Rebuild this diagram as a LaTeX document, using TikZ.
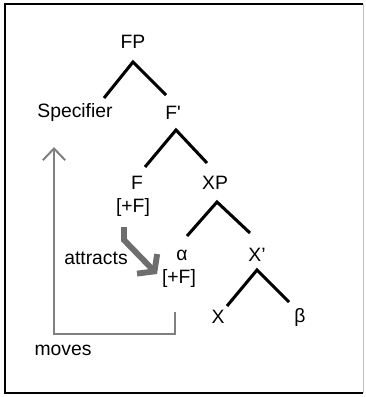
\documentclass[tikz,border=0pt]{standalone}
\usepackage{fontspec}
\setmainfont{Liberation Sans}
\usetikzlibrary{calc, arrows.meta}

\definecolor{arrowgray}{HTML}{6E6E6E}
\definecolor{bracketgray}{HTML}{808080}

\begin{document}
\begin{tikzpicture}[x=0.03cm, y=-0.03cm,
        branch/.style={line width=2.6pt, line join=miter},
        attract/.style={arrowgray, line width=5pt, -{Straight Barb[length=9pt, width=24pt]}},
        moveline/.style={bracketgray, line width=1.7pt, -{Straight Barb[length=10pt, width=19pt]}}]
    \useasboundingbox (0,0) rectangle (365,397);
    \draw[line width=1.8pt] (363,4) -- (5,4) -- (5,393) -- (363,393);
    \draw[line width=0.6pt, black!25] (363,4) -- (363,393);

    \begin{scope}[every node/.style={draw=none, inner sep=0pt, font=\fontsize{16.5}{18}\selectfont}]
        \node (fp) at (133, 42) {FP};
        \node (spec) at (75, 113) {Specifier};
        \node (fbar) at (173, 113) {F\textquotesingle};
        \node (f) at (137, 183) {F};
        \node (ffeat) at (133, 208) {[+F]};
        \node (xp) at (215, 183) {XP};
        \node (alpha) at (182, 255) {α};
        \node (afeat) at (179, 278) {[+F]};
        \node (xbar) at (257, 255) {X'};
        \node (x) at (218, 317) {X};
        \node (beta) at (300, 317) {β};
        \node (attracts) at (96, 258) {attracts};
        \node (moves) at (63, 350) {moves};
    \end{scope}

    \draw[branch] ($(spec)+(29,-15)$) -- ($(fp)+(0,20)$) -- ($(fbar)+(-7,-18)$);
    \draw[branch] ($(f)+(8,-16)$) -- ($(fbar)+(3,17)$) -- ($(xp)+(-8,-20)$);
    \draw[branch] ($(alpha)+(5,-19)$) -- ($(xp)+(2,19)$) -- ($(xbar)+(-7,-22)$);
    \draw[branch] ($(x)+(9,-11)$) -- ($(xbar)+(0,15)$) -- ($(beta)+(-11,-15)$);

    \draw[attract] ($(ffeat)+(-9,19)$) -- ++(0,13) -- ($(afeat)+(-22,-4)$);
    \draw[moveline] ($(afeat)+(-4,34)$) -- ++(0,22) -| ($(spec)+(-21,34)$);
\end{tikzpicture}
\end{document}
